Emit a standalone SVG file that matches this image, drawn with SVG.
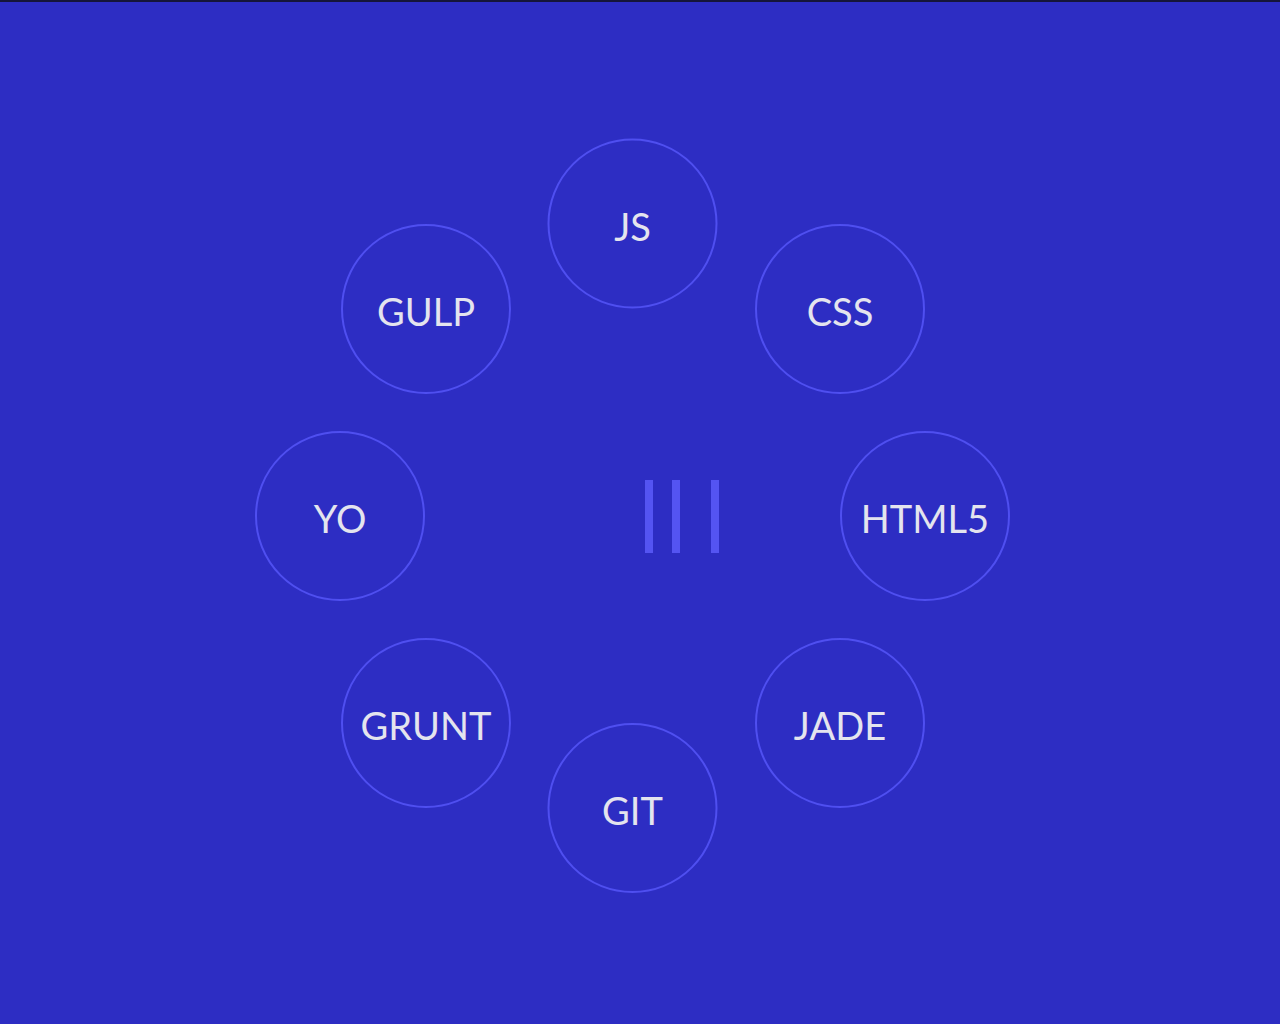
<svg xmlns="http://www.w3.org/2000/svg" width="1280" height="1024" viewBox="0 0 1280 1024">
<style>
.ring{fill:none;stroke:#4f4ff0;stroke-width:2}
.lbl{font-family:Lato,"Noto Sans",sans-serif;font-size:38px;fill:#e4e4ee;text-anchor:middle}
.bar{fill:#5454f2}
</style>
<rect x="0" y="0" width="1280" height="1024" fill="#2d2dc3"/>
<rect x="0" y="0" width="1280" height="2" fill="#15153a"/>
<g id="center-icon">
<rect class="bar" x="645" y="480" width="8" height="73"/>
<rect class="bar" x="672" y="480" width="8" height="73"/>
<rect class="bar" x="711" y="480" width="8" height="73"/>
</g>
<g id="connectors"></g>
<g id="node-js"><circle class="ring" cx="632.5" cy="223.5" r="84"/><text class="lbl" x="632.5" y="241">JS</text></g>
<g id="node-css"><circle class="ring" cx="840" cy="309" r="84"/><text class="lbl" x="840" y="326">CSS</text></g>
<g id="node-html5"><circle class="ring" cx="925" cy="516" r="84"/><text class="lbl" x="925" y="533">HTML5</text></g>
<g id="node-jade"><circle class="ring" cx="840" cy="723" r="84"/><text class="lbl" x="840" y="740">JADE</text></g>
<g id="node-git"><circle class="ring" cx="632.5" cy="808" r="84"/><text class="lbl" x="632.5" y="825">GIT</text></g>
<g id="node-grunt"><circle class="ring" cx="426" cy="723" r="84"/><text class="lbl" x="426" y="740">GRUNT</text></g>
<g id="node-yo"><circle class="ring" cx="340" cy="516" r="84"/><text class="lbl" x="340" y="533">YO</text></g>
<g id="node-gulp"><circle class="ring" cx="426" cy="309" r="84"/><text class="lbl" x="426" y="326">GULP</text></g>
</svg>
